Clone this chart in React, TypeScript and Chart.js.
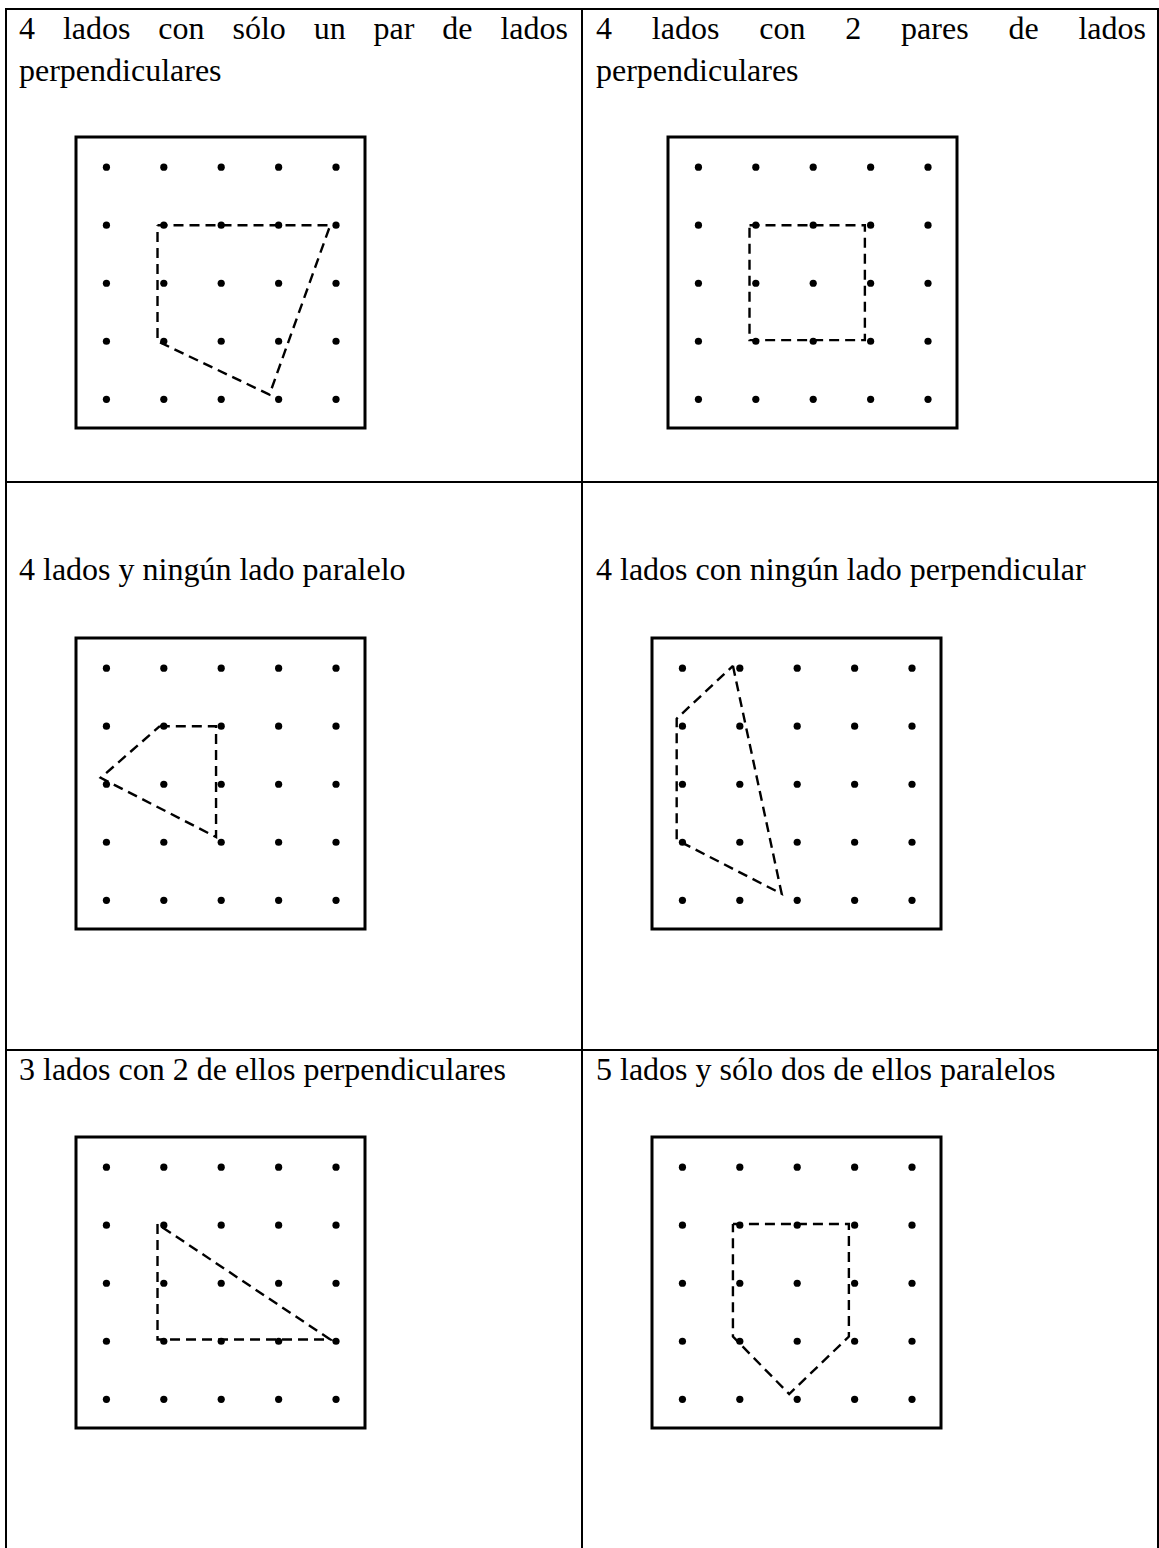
import React, { useEffect, useRef } from "react";
import { Chart, registerables } from "chart.js";

Chart.register(...registerables);

// ---- data ----
const gridCols = [0, 1, 2, 3, 4];
const gridRows = [0, 1, 2, 3, 4];

const captions = [
  "4 lados con sólo un par de lados perpendiculares",
  "4 lados con 2 pares de lados perpendiculares",
  "4 lados y ningún lado paralelo",
  "4 lados con ningún lado perpendicular",
  "3 lados con 2 de ellos perpendiculares",
  "5 lados y sólo dos de ellos paralelos",
];

// polygon vertices as [column, row] on the 5x5 geoboard (row 0 = top)
const shape1 = [[0.89, 1], [3.9, 1], [2.84, 3.92], [0.89, 3]];
const shape2 = [[0.89, 1], [2.9, 1], [2.9, 2.98], [0.89, 2.98]];
const shape3 = [[0.93, 1], [1.91, 1], [1.91, 2.91], [-0.1, 1.89]];
const shape4 = [[0.88, -0.04], [1.73, 3.89], [-0.1, 2.96], [-0.1, 0.87]];
const shape5 = [[0.89, 0.98], [0.89, 2.97], [3.9, 2.97]];
const shape6 = [[0.88, 0.98], [2.9, 0.98], [2.9, 2.92], [1.86, 3.91], [0.88, 2.92]];

const shapes = [shape1, shape2, shape3, shape4, shape5, shape6];

// ---- layout ----
const BOARD_W = 289;
const BOARD_H = 291;
const PAD = 4;
const boardPos = [
  { left: 76, top: 137 },
  { left: 668, top: 137 },
  { left: 76, top: 638 },
  { left: 652, top: 638 },
  { left: 76, top: 1137 },
  { left: 652, top: 1137 },
];
const captionPos = [
  { left: 19, top: 7, width: 549 },
  { left: 596, top: 7, width: 550 },
  { left: 19, top: 548, width: 549 },
  { left: 596, top: 548, width: 550 },
  { left: 19, top: 1048, width: 549 },
  { left: 596, top: 1048, width: 550 },
];

const framePlugin = {
  id: "boardFrame",
  beforeDatasetsDraw(chart: any) {
    const { ctx, chartArea } = chart;
    ctx.save();
    ctx.strokeStyle = "#000";
    ctx.lineWidth = 3;
    ctx.strokeRect(
      chartArea.left,
      chartArea.top,
      chartArea.right - chartArea.left,
      chartArea.bottom - chartArea.top
    );
    ctx.restore();
  },
};

function Board({ index }: { index: number }) {
  const ref = useRef<HTMLCanvasElement | null>(null);
  useEffect(() => {
    if (!ref.current) return;
    const dots: { x: number; y: number }[] = [];
    gridRows.forEach((r) => gridCols.forEach((c) => dots.push({ x: c, y: r })));
    const shape = shapes[index];
    const poly = shape.map(([x, y]) => ({ x, y }));
    poly.push({ x: shape[0][0], y: shape[0][1] });
    const chart = new Chart(ref.current, {
      type: "scatter",
      data: {
        datasets: [
          {
            type: "line",
            data: poly,
            borderColor: "#000",
            borderWidth: 2.4,
            borderDash: [10, 6],
            pointRadius: 0,
            fill: false,
            tension: 0,
            order: 2,
          } as any,
          {
            type: "scatter",
            data: dots,
            pointRadius: 3.6,
            pointBackgroundColor: "#000",
            pointBorderWidth: 0,
            borderColor: "#000",
            order: 1,
          } as any,
        ],
      },
      options: {
        responsive: false,
        animation: false,
        devicePixelRatio: 1,
        layout: { padding: PAD },
        plugins: { legend: { display: false }, tooltip: { enabled: false } },
        events: [],
        scales: {
          x: { type: "linear", min: -0.53, max: 4.505, display: false },
          y: { type: "linear", min: -0.52, max: 4.495, reverse: true, display: false },
        },
      },
      plugins: [framePlugin],
    });
    return () => chart.destroy();
  }, [index]);
  const p = boardPos[index];
  return (
    <canvas
      ref={ref}
      width={BOARD_W + 2 * PAD}
      height={BOARD_H + 2 * PAD}
      style={{
        position: "absolute",
        left: p.left - PAD,
        top: p.top - PAD,
        width: BOARD_W + 2 * PAD,
        height: BOARD_H + 2 * PAD,
      }}
    />
  );
}

const line = (s: React.CSSProperties) => (
  <div style={{ position: "absolute", background: "#000", ...s }} />
);

export default function App() {
  return (
    <div
      style={{
        position: "absolute",
        left: 0,
        top: 0,
        width: 1159,
        height: 1548,
        background: "#fff",
        overflow: "hidden",
        fontFamily: '"Liberation Serif", "Times New Roman", serif',
        color: "#000",
      }}
    >
      {line({ left: 5, top: 8, width: 1154, height: 2 })}
      {line({ left: 5, top: 8, width: 2, height: 1540 })}
      {line({ left: 1157, top: 8, width: 2, height: 1540 })}
      {line({ left: 581, top: 8, width: 2, height: 1540 })}
      {line({ left: 5, top: 481, width: 1154, height: 2 })}
      {line({ left: 5, top: 1049, width: 1154, height: 2 })}
      {captions.map((t, i) => (
        <div
          key={i}
          style={{
            position: "absolute",
            left: captionPos[i].left,
            top: captionPos[i].top,
            width: captionPos[i].width,
            fontSize: 32,
            lineHeight: "42px",
            textAlign: "justify",
          }}
        >
          {t}
        </div>
      ))}
      {shapes.map((_, i) => (
        <Board key={i} index={i} />
      ))}
    </div>
  );
}
